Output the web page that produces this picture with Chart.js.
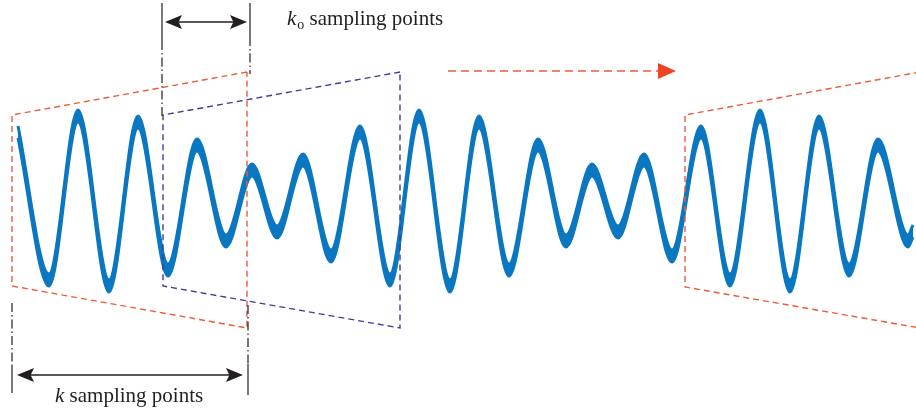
<!DOCTYPE html>
<html>
<head>
<meta charset="utf-8">
<script src="https://cdn.jsdelivr.net/npm/chart.js@4/dist/chart.umd.min.js"></script>
<style>
  html, body { margin: 0; padding: 0; background: #ffffff; }
  #wrap { width: 916px; height: 415px; position: relative; }
</style>
</head>
<body>
<div id="wrap"><canvas id="c"></canvas></div>
<script>
// Signal extrema: sample position and level (plot units, y grows downward)
const waveX = [18, 49, 78, 109, 138, 168, 197, 226, 252, 277, 303, 331,
               360, 390, 419, 450, 479, 509, 538, 566, 592, 618, 644, 672,
               701, 730, 760, 790, 819, 849, 878, 908, 913];
const waveY = [132, 280, 116, 286, 122, 270, 145, 241, 170, 232, 160, 256,
               132, 280, 116, 286, 122, 270, 145, 241, 170, 232, 160, 256,
               132, 280, 116, 286, 122, 270, 145, 241, 231];
// half spread of the noisy band around the signal
const BAND = 6;

// Sliding windows (outline corners, closed path)
const winAX = [247, 12, 12, 247, 247];
const winAY = [72, 115, 286, 328, 72];
const winBX = [400, 163, 163, 400, 400];
const winBY = [72, 115, 286, 328, 72];
const winCX = [920, 685, 685, 920];
const winCY = [72, 115, 287, 328];

// Window-edge guide lines: x, solid span, dash-dot span
const guideX      = [162, 250, 12, 248];
const guideSolid  = [[3, 41], [3, 37], [366, 393], [364, 395]];
const guideDashed = [[41, 116], [37, 74], [303, 366], [305, 364]];

// Span arrows
const spanTopX = [165, 247];
const spanTopY = 22;
const spanBotX = [17, 243];
const spanBotY = 375;
// Shift direction arrow
const shiftX = [448, 676];
const shiftY = 71;

// Labels
const labelTop = ['k', 'o', ' sampling points'];
const labelTopAt = [287, 25];
const labelBot = ['k', ' sampling points'];
const labelBotAt = [55, 402];

const RED = '#ef5a3b';
const NAVY = '#3f3d99';
const BLUE = '#0a77c0';
const INK = '#231f20';

const pts = (xs, ys) => xs.map((v, i) => ({ x: v, y: ys[i] }));

const annot = {
  id: 'annot',
  afterDatasetsDraw(chart) {
    const { ctx, scales: { x, y } } = chart;
    const X = v => x.getPixelForValue(v);
    const Y = v => y.getPixelForValue(v);
    ctx.save();

    // guide lines
    ctx.strokeStyle = INK;
    ctx.lineWidth = 1.2;
    guideX.forEach((gx, i) => {
      ctx.setLineDash([]);
      ctx.beginPath();
      ctx.moveTo(X(gx), Y(guideSolid[i][0]));
      ctx.lineTo(X(gx), Y(guideSolid[i][1]));
      ctx.stroke();
      ctx.setLineDash([9, 3, 1.5, 3]);
      ctx.beginPath();
      ctx.moveTo(X(gx), Y(guideDashed[i][0]));
      ctx.lineTo(X(gx), Y(guideDashed[i][1]));
      ctx.stroke();
    });
    ctx.setLineDash([]);

    const head = (tipX, tipY, dir, len, half, color) => {
      ctx.fillStyle = color;
      ctx.beginPath();
      ctx.moveTo(tipX, tipY);
      ctx.lineTo(tipX - dir * len, tipY - half);
      ctx.lineTo(tipX - dir * len * 0.8, tipY);
      ctx.lineTo(tipX - dir * len, tipY + half);
      ctx.closePath();
      ctx.fill();
    };
    const doubleArrow = (xs, yv) => {
      const x0 = X(xs[0]), x1 = X(xs[1]), yy = Y(yv);
      ctx.strokeStyle = INK;
      ctx.lineWidth = 1.6;
      ctx.beginPath();
      ctx.moveTo(x0 + 8, yy);
      ctx.lineTo(x1 - 8, yy);
      ctx.stroke();
      head(x0, yy, -1, 17, 7, INK);
      head(x1, yy, 1, 17, 7, INK);
    };
    doubleArrow(spanTopX, spanTopY);
    doubleArrow(spanBotX, spanBotY);

    // shift arrow
    const sx0 = X(shiftX[0]), sx1 = X(shiftX[1]), sy = Y(shiftY);
    ctx.strokeStyle = RED;
    ctx.lineWidth = 1.4;
    ctx.setLineDash([8, 5]);
    ctx.beginPath();
    ctx.moveTo(sx0, sy);
    ctx.lineTo(sx1 - 16, sy);
    ctx.stroke();
    ctx.setLineDash([]);
    ctx.fillStyle = '#ef4423';
    ctx.beginPath();
    ctx.moveTo(sx1, sy);
    ctx.lineTo(sx1 - 18, sy - 8);
    ctx.lineTo(sx1 - 18, sy + 8);
    ctx.closePath();
    ctx.fill();

    // labels
    ctx.fillStyle = INK;
    ctx.textBaseline = 'alphabetic';
    ctx.textAlign = 'left';
    const italic = 'italic 21px "Liberation Serif", serif';
    const upright = '21px "Liberation Serif", serif';
    const sub = '14px "Liberation Serif", serif';

    let tx = X(labelTopAt[0]);
    let ty = Y(labelTopAt[1]);
    ctx.font = italic;
    ctx.fillText(labelTop[0], tx, ty);
    tx += ctx.measureText(labelTop[0]).width + 1;
    ctx.font = sub;
    ctx.fillText(labelTop[1], tx, ty + 4);
    tx += ctx.measureText(labelTop[1]).width;
    ctx.font = upright;
    ctx.fillText(labelTop[2], tx, ty);

    tx = X(labelBotAt[0]);
    ty = Y(labelBotAt[1]);
    ctx.font = italic;
    ctx.fillText(labelBot[0], tx, ty);
    tx += ctx.measureText(labelBot[0]).width;
    ctx.font = upright;
    ctx.fillText(labelBot[1], tx, ty);

    ctx.restore();
  }
};

const windowSet = (xs, ys, color) => ({
  data: pts(xs, ys),
  borderColor: color,
  borderWidth: 1.4,
  borderDash: [6, 4],
  pointRadius: 0,
  tension: 0,
  fill: false,
  order: 0
});

new Chart(document.getElementById('c'), {
  type: 'line',
  data: {
    datasets: [
      {
        data: pts(waveX, waveY.map(v => v - BAND)),
        borderColor: BLUE,
        borderWidth: 3,
        pointRadius: 0,
        cubicInterpolationMode: 'monotone',
        fill: false,
        order: 2
      },
      {
        data: pts(waveX, waveY.map(v => v + BAND)),
        borderColor: BLUE,
        backgroundColor: BLUE,
        borderWidth: 3,
        pointRadius: 0,
        cubicInterpolationMode: 'monotone',
        fill: '-1',
        order: 1
      },
      windowSet(winAX, winAY, RED),
      windowSet(winBX, winBY, NAVY),
      windowSet(winCX, winCY, RED)
    ]
  },
  options: {
    responsive: true,
    maintainAspectRatio: false,
    animation: false,
    layout: { padding: 0 },
    plugins: { legend: { display: false }, tooltip: { enabled: false } },
    scales: {
      x: { type: 'linear', min: 0, max: 916, display: false },
      y: { type: 'linear', min: 0, max: 415, reverse: true, display: false }
    }
  },
  plugins: [annot]
});
</script>
</body>
</html>
